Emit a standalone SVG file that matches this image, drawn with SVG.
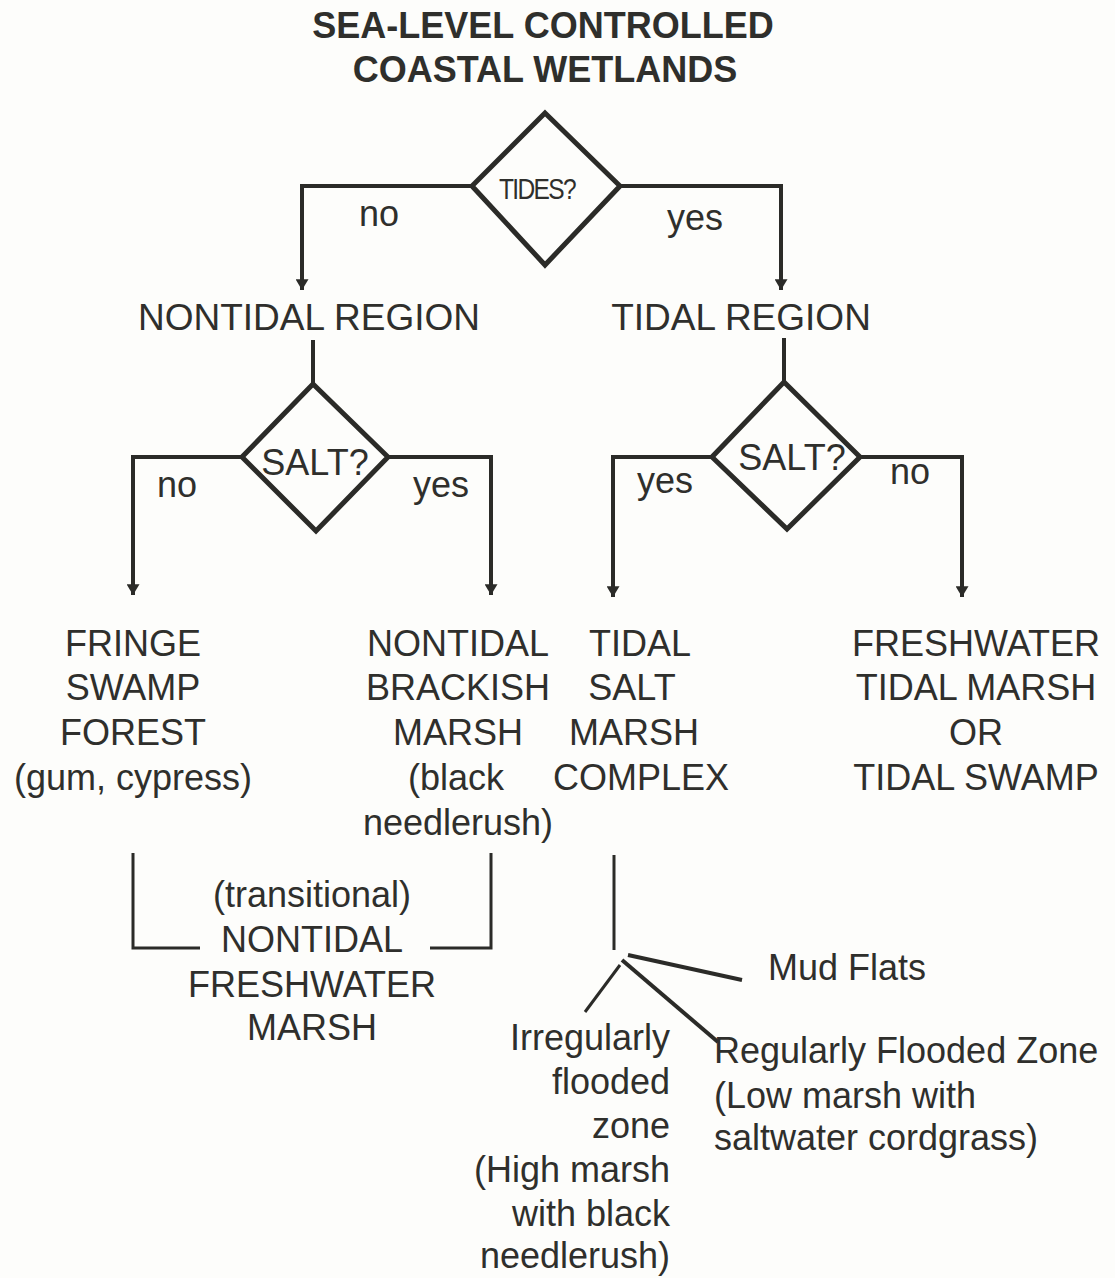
<svg xmlns="http://www.w3.org/2000/svg" width="1115" height="1278" viewBox="0 0 1115 1278">
<defs>
<style>
.t{font-family:"Liberation Sans",Arial,sans-serif;font-size:36px;fill:#2f2f2c;text-anchor:middle}
.ttl{font-family:"Liberation Sans",Arial,sans-serif;font-size:36px;font-weight:bold;fill:#2f2f2c;text-anchor:middle}
.s{text-anchor:start}
.e{text-anchor:end}
.ln{fill:none;stroke:#2b2b28;stroke-width:4;stroke-linejoin:miter}
.thin{fill:none;stroke:#2b2b28;stroke-width:3}
.dia{fill:none;stroke:#2b2b28;stroke-width:5;stroke-linejoin:miter}
</style>
<marker id="arr" viewBox="0 0 10 12" refX="10" refY="6" markerWidth="11" markerHeight="13" markerUnits="userSpaceOnUse" orient="auto">
<path d="M0,0 L10,6 L0,12 Z" fill="#2b2b28"/>
</marker>
</defs>
<rect width="1115" height="1278" fill="#fdfdfb"/>

<g id="title">
<text class="ttl" x="543" y="38">SEA-LEVEL CONTROLLED</text>
<text class="ttl" x="545" y="82">COASTAL WETLANDS</text>
</g>

<g id="connectors">
<polyline class="ln" points="472,186 302,186 302,290" marker-end="url(#arr)"/>
<polyline class="ln" points="620,186 781,186 781,290" marker-end="url(#arr)"/>
<line class="ln" x1="313" y1="340" x2="313" y2="385"/>
<line class="ln" x1="784" y1="338" x2="784" y2="382"/>
<polyline class="ln" points="242,457 133,457 133,595" marker-end="url(#arr)"/>
<polyline class="ln" points="388,457 491,457 491,595" marker-end="url(#arr)"/>
<polyline class="ln" points="712,457 613,457 613,597" marker-end="url(#arr)"/>
<polyline class="ln" points="860,457 962,457 962,597" marker-end="url(#arr)"/>
<polyline class="thin" points="133,853 133,948 200,948"/>
<polyline class="thin" points="430,948 491,948 491,853"/>
<line class="thin" x1="614" y1="855" x2="614" y2="950"/>
<line class="ln" x1="628" y1="955" x2="742" y2="980"/>
<line class="thin" x1="620" y1="965" x2="585" y2="1012"/>
<line class="ln" x1="622" y1="960" x2="718" y2="1042"/>
</g>

<g id="tides">
<polygon class="dia" points="545,113 620,186 545,265 472,186"/>
<text class="t" x="537" y="199" style="font-size:30px;letter-spacing:-2px" textLength="76" lengthAdjust="spacingAndGlyphs">TIDES?</text>
</g>
<g id="label-tides-no"><text class="t" x="379" y="226">no</text></g>
<g id="label-tides-yes"><text class="t" x="695" y="230">yes</text></g>

<g id="nontidal-region"><text class="t" x="309" y="330" style="font-size:37px">NONTIDAL REGION</text></g>
<g id="tidal-region"><text class="t" x="741" y="330" style="font-size:37px">TIDAL REGION</text></g>

<g id="salt-left">
<polygon class="dia" points="313,384 388,457 316,531 242,457"/>
<text class="t" x="315" y="475">SALT?</text>
</g>
<g id="label-salt-left-no"><text class="t" x="177" y="497">no</text></g>
<g id="label-salt-left-yes"><text class="t" x="441" y="497">yes</text></g>

<g id="salt-right">
<polygon class="dia" points="784,382 860,457 787,529 712,457"/>
<text class="t" x="792" y="470">SALT?</text>
</g>
<g id="label-salt-right-yes"><text class="t" x="665" y="493">yes</text></g>
<g id="label-salt-right-no"><text class="t" x="910" y="484">no</text></g>

<g id="fringe-swamp">
<text class="t" x="133" y="656">FRINGE</text>
<text class="t" x="133" y="700">SWAMP</text>
<text class="t" x="133" y="745">FOREST</text>
<text class="t" x="133" y="790">(gum, cypress)</text>
</g>

<g id="nontidal-brackish">
<text class="t" x="458" y="656">NONTIDAL</text>
<text class="t" x="458" y="700">BRACKISH</text>
<text class="t" x="458" y="745">MARSH</text>
<text class="t" x="456" y="790">(black</text>
<text class="t" x="458" y="835">needlerush)</text>
</g>

<g id="tidal-salt-marsh">
<text class="t" x="640" y="656">TIDAL</text>
<text class="t" x="632" y="700">SALT</text>
<text class="t" x="634" y="745">MARSH</text>
<text class="t" x="641" y="790">COMPLEX</text>
</g>

<g id="freshwater-tidal">
<text class="t" x="976" y="656">FRESHWATER</text>
<text class="t" x="976" y="700">TIDAL MARSH</text>
<text class="t" x="976" y="745">OR</text>
<text class="t" x="976" y="790">TIDAL SWAMP</text>
</g>

<g id="nontidal-freshwater">
<text class="t" x="312" y="907">(transitional)</text>
<text class="t" x="312" y="952">NONTIDAL</text>
<text class="t" x="312" y="997">FRESHWATER</text>
<text class="t" x="312" y="1040">MARSH</text>
</g>

<g id="mud-flats"><text class="t s" x="768" y="980">Mud Flats</text></g>

<g id="irregularly-flooded">
<text class="t e" x="670" y="1050">Irregularly</text>
<text class="t e" x="670" y="1094">flooded</text>
<text class="t e" x="670" y="1138">zone</text>
<text class="t e" x="670" y="1182">(High marsh</text>
<text class="t e" x="670" y="1226">with black</text>
<text class="t e" x="670" y="1268">needlerush)</text>
</g>

<g id="regularly-flooded">
<text class="t s" x="714" y="1063">Regularly Flooded Zone</text>
<text class="t s" x="714" y="1108">(Low marsh with</text>
<text class="t s" x="714" y="1150">saltwater cordgrass)</text>
</g>
</svg>
